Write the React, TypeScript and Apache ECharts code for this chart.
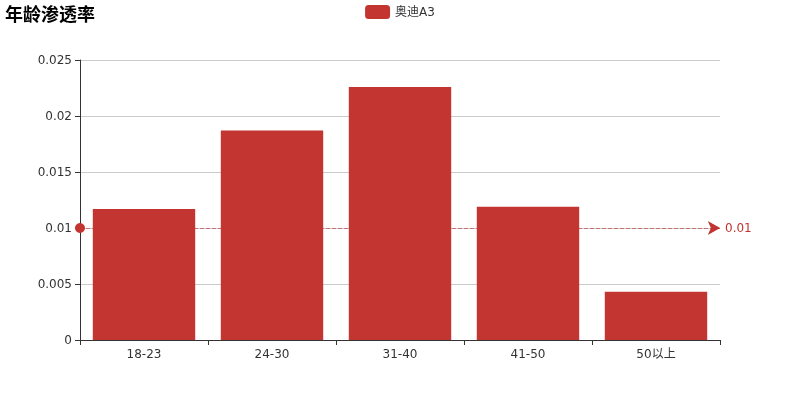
import { useEffect, useRef } from "react";
import * as echarts from "echarts";

const ageGroups = ["18-23", "24-30", "31-40", "41-50", "50以上"];
const audiA3 = [0.0117, 0.0187, 0.0226, 0.0119, 0.0043];
const refLine = 0.01;

const axisColor = "#333";
const barColor = "#c23531";

export default function App() {
  const chartRef = useRef<HTMLDivElement>(null);

  useEffect(() => {
    if (!chartRef.current) return;
    const chart = echarts.init(chartRef.current, null, { renderer: "svg" });

    chart.setOption({
      animation: false,
      textStyle: { fontFamily: "DejaVu Sans, Noto Sans CJK SC" },
      title: {
        text: "年龄渗透率",
        left: 0,
        top: 0,
        textStyle: { fontSize: 18, fontWeight: "bold", color: "#000" },
      },
      legend: {
        data: ["奥迪A3"],
        top: 0,
        left: "center",
        textStyle: { color: axisColor, fontSize: 12 },
      },
      color: [barColor],
      grid: { left: 80, right: 80, top: 60, bottom: 60, containLabel: false },
      xAxis: {
        type: "category",
        data: ageGroups,
        axisLine: { show: true, lineStyle: { color: axisColor } },
        axisTick: { show: true, lineStyle: { color: axisColor } },
        axisLabel: { color: axisColor, fontSize: 12 },
      },
      yAxis: {
        type: "value",
        min: 0,
        max: 0.025,
        interval: 0.005,
        axisLine: { show: true, lineStyle: { color: axisColor } },
        axisTick: { show: true, lineStyle: { color: axisColor } },
        axisLabel: { color: axisColor, fontSize: 12 },
        splitLine: { lineStyle: { color: "#ccc" } },
      },
      series: [
        {
          name: "奥迪A3",
          type: "bar",
          barCategoryGap: "20%",
          data: audiA3,
          markLine: {
            symbolSize: [10, 12],
            label: { color: barColor, fontSize: 12 },
            data: [
              // faint dashed line, no end marks
              {
                yAxis: refLine,
                symbol: "none",
                lineStyle: { type: "dashed", color: "rgba(194,53,49,0.6)", width: 1 },
                label: { show: false },
              },
              // solid end marks and label
              {
                yAxis: refLine,
                lineStyle: { color: barColor, width: 0 },
              },
            ],
          },
        },
      ],
    });

    return () => chart.dispose();
  }, []);

  return (
    <div
      ref={chartRef}
      style={{ position: "fixed", left: 0, top: 0, width: 800, height: 400 }}
    />
  );
}
